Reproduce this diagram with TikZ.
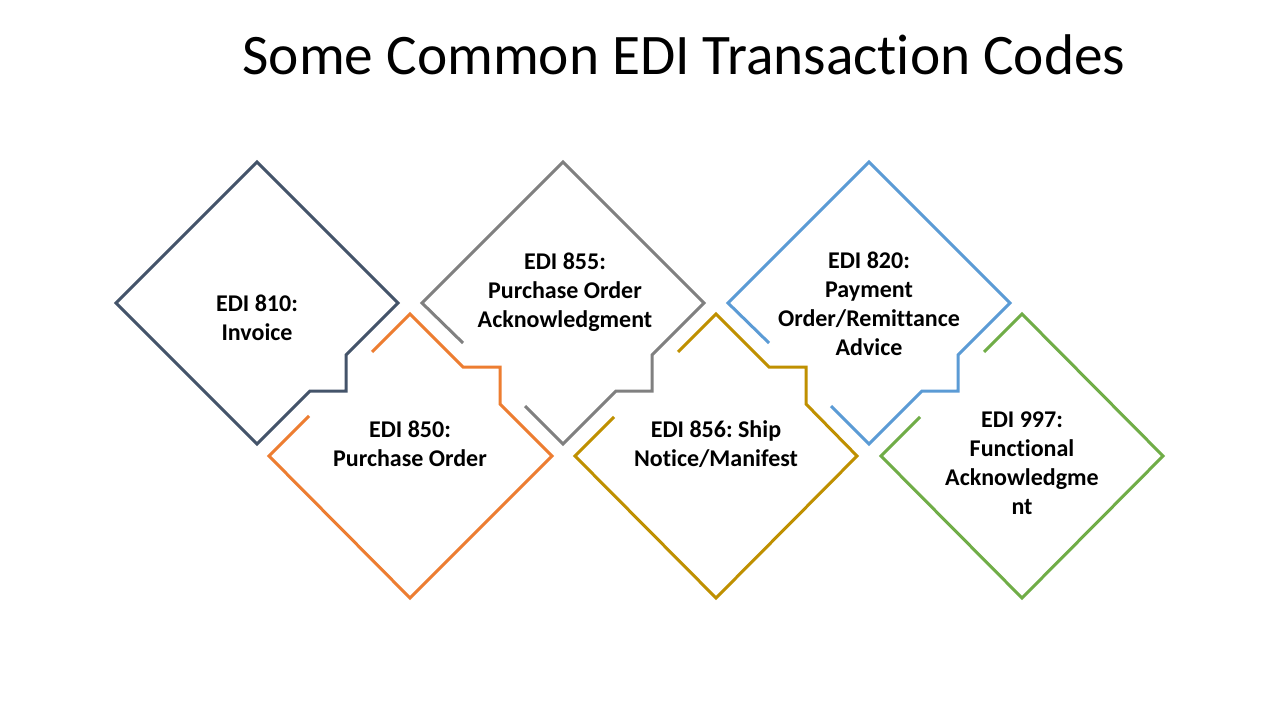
\documentclass[tikz,border=0pt]{standalone}
\usepackage{fontspec}
\setmainfont{Carlito}[Ligatures=NoCommon]
\frenchspacing
\definecolor{cdark}{HTML}{44546A}
\definecolor{corange}{HTML}{ED7D31}
\definecolor{cgray}{HTML}{808080}
\definecolor{cgold}{HTML}{BF9000}
\definecolor{cblue}{HTML}{5B9BD5}
\definecolor{cgreen}{HTML}{70AD47}
\tikzset{
  piece/.style={line width=2.25pt, miter limit=10},
  lbl/.style={align=center, font=\fontsize{18}{21.75}\selectfont\bfseries, inner sep=0pt}
}
\begin{document}
\begin{tikzpicture}[x=0.75pt,y=-0.75pt]
\useasboundingbox[fill=white] (0,0) rectangle (1280,720);
\node[font=\fontsize{43}{52}\selectfont, inner sep=0pt] (title) at (684,55) {Some Common EDI Transaction Codes};
% shapes
\draw[piece, cdark] (257,162) -- (398,303) -- (346,355) -- (346,391) -- (310,391) -- (257,444) -- (116,303) -- cycle;
\draw[piece, cgray] (463,343) -- (422,303) -- (563,162) -- (704,303) -- (652,355) -- (652,391) -- (616,391) -- (563,444) -- (525,406);
\draw[piece, cblue] (769,343) -- (728,303) -- (869,162) -- (1010,303) -- (958,355) -- (958,391) -- (922,391) -- (869,444) -- (831,406);
\draw[piece, corange] (372,352) -- (410,314) -- (463,367) -- (500,367) -- (500,404) -- (552,456) -- (410,598) -- (269,456) -- (309,416);
\draw[piece, cgold] (678,352) -- (716,314) -- (769,367) -- (806,367) -- (806,404) -- (857,456) -- (716,598) -- (575,456) -- (614,417);
\draw[piece, cgreen] (984,352) -- (1022,314) -- (1163,456) -- (1022,598) -- (881,456) -- (920,417);
% labels
\node[lbl] (t810) at (257,318) {EDI 810:\\Invoice};
\node[lbl] (t855) at (565,292) {EDI 855:\\Purchase Order\\Acknowledgment};
\node[lbl] (t820) at (869,304) {EDI 820:\\Payment\\Order/Remittance\\Advice};
\node[lbl] (t850) at (410,444) {EDI 850:\\Purchase Order};
\node[lbl] (t856) at (716,444) {EDI 856: Ship\\Notice/Manifest};
\node[lbl] (t997) at (1022,463) {EDI 997:\\Functional\\Acknowledgme\\nt};
\end{tikzpicture}
\end{document}
